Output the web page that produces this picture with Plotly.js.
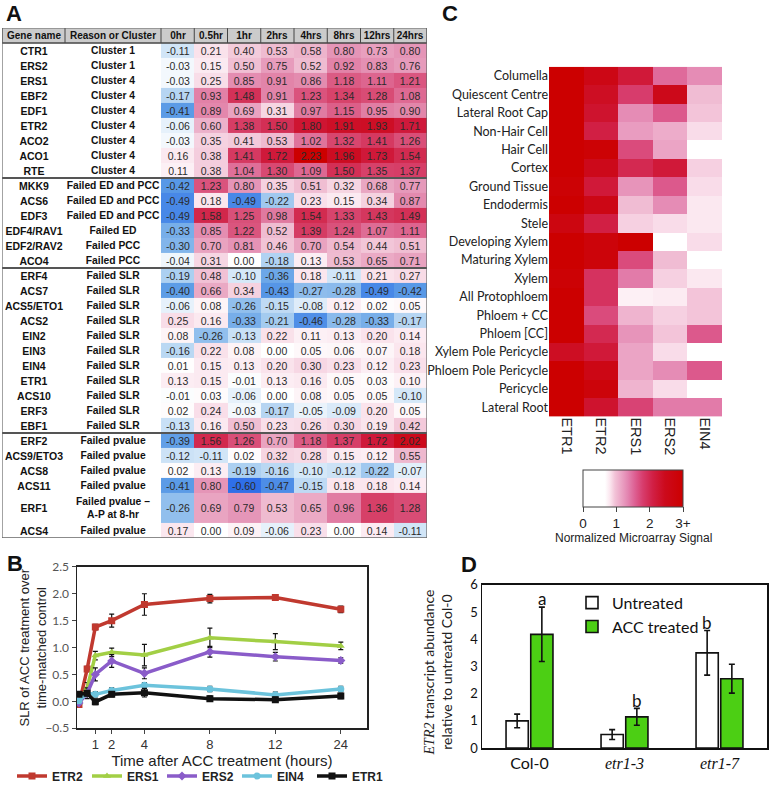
<!DOCTYPE html>
<html><head><meta charset="utf-8">
<script src="https://cdn.plot.ly/plotly-3.0.1.min.js"></script>
<style>body{margin:0;background:#fff}#chart{width:771px;height:791px}</style>
</head><body><div id="chart"></div>
<script>
// ---------- Panel A data ----------
const genes = ['CTR1','ERS2','ERS1','EBF2','EDF1','ETR2','ACO2','ACO1','RTE',
  'MKK9','ACS6','EDF3','EDF4/RAV1','EDF2/RAV2','ACO4',
  'ERF4','ACS7','ACS5/ETO1','ACS2','EIN2','EIN3','EIN4','ETR1','ACS10','ERF3','EBF1',
  'ERF2','ACS9/ETO3','ACS8','ACS11','ERF1','ACS4'];
const reasons = ['Cluster 1','Cluster 1','Cluster 4','Cluster 4','Cluster 4','Cluster 4','Cluster 4','Cluster 4','Cluster 4',
  'Failed ED and PCC','Failed ED and PCC','Failed ED and PCC','Failed ED','Failed PCC','Failed PCC',
  'Failed SLR','Failed SLR','Failed SLR','Failed SLR','Failed SLR','Failed SLR','Failed SLR','Failed SLR','Failed SLR','Failed SLR','Failed SLR',
  'Failed pvalue','Failed pvalue','Failed pvalue','Failed pvalue','Failed pvalue –<br>A-P at 8-hr','Failed pvalue'];
const timeLabels = ['0hr','0.5hr','1hr','2hrs','4hrs','8hrs','12hrs','24hrs'];
const headerLabels = ['Gene name','Reason or Cluster'].concat(timeLabels);
const slr = [
  [-0.11,0.21,0.40,0.53,0.58,0.80,0.73,0.80],
  [-0.03,0.15,0.50,0.75,0.52,0.92,0.83,0.76],
  [-0.03,0.25,0.85,0.91,0.86,1.18,1.11,1.21],
  [-0.17,0.93,1.48,0.91,1.23,1.34,1.28,1.08],
  [-0.41,0.89,0.69,0.31,0.97,1.15,0.95,0.90],
  [-0.06,0.60,1.38,1.50,1.80,1.91,1.93,1.71],
  [-0.03,0.35,0.41,0.53,1.02,1.32,1.41,1.26],
  [0.16,0.38,1.41,1.72,2.23,1.96,1.73,1.54],
  [0.11,0.38,1.04,1.30,1.09,1.50,1.35,1.37],
  [-0.42,1.23,0.80,0.35,0.51,0.32,0.68,0.77],
  [-0.49,0.18,-0.49,-0.22,0.23,0.15,0.34,0.87],
  [-0.49,1.58,1.25,0.98,1.54,1.33,1.43,1.49],
  [-0.33,0.85,1.22,0.52,1.39,1.24,1.07,1.11],
  [-0.30,0.70,0.81,0.46,0.70,0.54,0.44,0.51],
  [-0.04,0.31,0.00,-0.18,0.13,0.53,0.65,0.71],
  [-0.19,0.48,-0.10,-0.36,0.18,-0.11,0.21,0.27],
  [-0.40,0.66,0.34,-0.43,-0.27,-0.28,-0.49,-0.42],
  [-0.06,0.08,-0.26,-0.15,-0.08,0.12,0.02,0.05],
  [0.25,0.16,-0.33,-0.21,-0.46,-0.28,-0.33,-0.17],
  [0.08,-0.26,-0.13,0.22,0.11,0.13,0.20,0.14],
  [-0.16,0.22,0.08,0.00,0.05,0.06,0.07,0.18],
  [0.01,0.15,0.13,0.20,0.30,0.23,0.12,0.23],
  [0.13,0.15,-0.01,0.13,0.16,0.05,0.03,0.10],
  [-0.01,0.03,-0.06,0.00,0.08,0.05,0.05,-0.10],
  [0.02,0.24,-0.03,-0.17,-0.05,-0.09,0.20,0.05],
  [-0.13,0.16,0.50,0.23,0.26,0.30,0.19,0.42],
  [-0.39,1.56,1.26,0.70,1.18,1.37,1.72,2.02],
  [-0.12,-0.11,0.02,0.32,0.28,0.15,0.12,0.55],
  [0.02,0.13,-0.19,-0.16,-0.10,-0.12,-0.22,-0.07],
  [-0.41,0.80,-0.60,-0.47,-0.15,0.18,0.18,0.14],
  [-0.26,0.69,0.79,0.53,0.65,0.96,1.36,1.28],
  [0.17,0.00,0.09,-0.06,0.23,0.00,0.14,-0.11]
];

// ---------- Panel B data ----------
const bHours = [0,0.5,1,2,4,8,12,24];
const bTickHours = [1,2,4,8,12,24];
const bNames = ['ETR2','ERS1','ERS2','EIN4','ETR1'];
const bETR2 = [-0.06,0.60,1.38,1.50,1.80,1.91,1.93,1.71];
const bERS1 = [-0.03,0.25,0.85,0.91,0.86,1.18,1.11,1.03];
const bERS2 = [-0.03,0.15,0.50,0.75,0.52,0.92,0.83,0.76];
const bEIN4 = [0.01,0.15,0.13,0.20,0.30,0.23,0.12,0.23];
const bETR1 = [0.13,0.15,-0.01,0.13,0.16,0.05,0.03,0.10];
const bErrETR2 = [0.02,0.05,0.05,0.12,0.2,0.08,0.05,0.06];
const bErrERS1 = [0.02,0.1,0.08,0.08,0.2,0.18,0.15,0.07];
const bErrERS2 = [0.02,0.1,0.12,0.12,0.1,0.1,0.08,0.05];
const bErrEIN4 = [0.02,0.05,0.05,0.05,0.05,0.05,0.05,0.05];
const bErrETR1 = [0.02,0.05,0.05,0.05,0.08,0.05,0.05,0.05];

// ---------- Panel C data ----------
const tissues = ['Columella','Quiescent Centre','Lateral Root Cap','Non-Hair Cell','Hair Cell','Cortex',
  'Ground Tissue','Endodermis','Stele','Developing Xylem','Maturing Xylem','Xylem','All Protophloem',
  'Phloem + CC','Phloem [CC]','Xylem Pole Pericycle','Phloem Pole Pericycle','Pericycle','Lateral Root'];
const receptors = ['ETR1','ETR2','ERS1','ERS2','EIN4'];
const signal = [
  [3.0,2.6,2.2,1.5,1.3],
  [3.0,2.4,1.8,2.5,1.0],
  [3.0,2.3,1.3,1.6,0.95],
  [3.0,2.1,1.2,1.1,0.85],
  [3.0,2.9,1.7,1.15,0.0],
  [3.0,2.5,2.0,2.2,0.9],
  [2.9,2.2,1.25,1.6,0.85],
  [3.0,2.6,1.0,1.3,0.8],
  [2.7,2.1,0.9,0.85,0.8],
  [3.0,2.8,3.0,0.0,0.85],
  [3.0,2.8,1.7,1.0,0.0],
  [2.9,1.9,1.4,0.9,0.8],
  [3.0,1.9,0.75,0.78,0.95],
  [3.0,1.7,1.05,0.9,0.95],
  [3.0,2.0,1.25,0.95,1.6],
  [2.4,2.2,1.15,0.85,0.0],
  [3.0,2.6,1.15,1.3,1.6],
  [3.0,2.8,1.05,0.85,0.0],
  [3.0,2.3,1.75,1.4,1.4]
];
const cbTickVals = [0,1,2,3];
const cbTickText = ['0','1','2','3+'];

// ---------- Panel D data ----------
const genotypes = ['Col-0','etr1-3','etr1-7'];
const genotypeItalic = [false,true,true];
const untreated = [1.0,0.5,3.5];
const untreatedErr = [0.25,0.18,0.82];
const accTreated = [4.18,1.15,2.55];
const accErr = [1.0,0.31,0.53];
const letterUntreated = ['','','b'];
const letterAcc = ['a','b',''];

// ---------- helpers ----------
const W = 771, H = 791;
const px = v => v / W;
const py = v => 1 - v / H;

const traces = [];
const shapes = [];
const annotations = [];

// Panel A table (axes x / y), units: x in pixels of table, y in row units
const colW = [63, 96].concat(timeLabels.map(() => 33.25));
const xEdges = [0];
colW.forEach(w => xEdges.push(xEdges[xEdges.length - 1] + w));
const rowH = reasons.map(r => r.includes('<br>') ? 2 : 1);
const yEdges = [0];
rowH.forEach(h => yEdges.push(yEdges[yEdges.length - 1] + h));
const tableW = xEdges[xEdges.length - 1];
const tableH = yEdges[yEdges.length - 1];

traces.push({
  type: 'heatmap', xaxis: 'x', yaxis: 'y',
  x: xEdges, y: [-1, 0], z: [headerLabels.map(() => 0)],
  text: [headerLabels], texttemplate: '%{text}',
  textfont: {family: 'Arial', size: 10, color: '#111', weight: 'bold'},
  colorscale: [[0, '#cbcbcb'], [1, '#cbcbcb']], showscale: false, hoverinfo: 'skip'
});
traces.push({
  type: 'heatmap', xaxis: 'x', yaxis: 'y',
  x: xEdges.slice(0, 2), y: yEdges, z: genes.map(() => [0]),
  text: genes.map(g => [g]), texttemplate: '%{text}',
  textfont: {family: 'Arial', size: 10.5, color: '#111', weight: 'bold'},
  colorscale: [[0, '#ffffff'], [1, '#ffffff']], showscale: false, hoverinfo: 'skip'
});
traces.push({
  type: 'heatmap', xaxis: 'x', yaxis: 'y',
  x: xEdges.slice(1, 3), y: yEdges, z: reasons.map(() => [0]),
  text: reasons.map(r => [r]), texttemplate: '%{text}',
  textfont: {family: 'Arial', size: 10.3, color: '#111', weight: 'bold'},
  colorscale: [[0, '#ffffff'], [1, '#ffffff']], showscale: false, hoverinfo: 'skip'
});
traces.push({
  type: 'heatmap', xaxis: 'x', yaxis: 'y',
  x: xEdges.slice(2), y: yEdges, z: slr,
  texttemplate: '%{z:.2f}',
  textfont: {family: 'Arial', size: 10.5, color: '#2a2a2a'},
  zmin: -0.6, zmax: 2.2,
  colorscale: [[0, '#2f6fe8'], [0.0714, '#5d9de6'], [0.143, '#a8cdf0'], [0.179, '#d6e8f8'], [0.214, '#ffffff'],
    [0.286, '#fae3ec'], [0.393, '#f0bfd3'], [0.5, '#e595b7'], [0.607, '#dd6791'], [0.714, '#d53a62'],
    [0.821, '#cf1a3c'], [0.929, '#cc0a1e'], [1, '#cc0000']],
  showscale: false, hoverinfo: 'skip'
});
// header cell borders
xEdges.forEach(x => shapes.push({type: 'line', xref: 'x', yref: 'y', x0: x, x1: x, y0: -1, y1: 0, line: {color: '#444', width: 1}}));
shapes.push({type: 'line', xref: 'x', yref: 'y', x0: 0, x1: tableW, y0: 0, y1: 0, line: {color: '#444', width: 1.5}});
// group separators
const groupOf = r => r.startsWith('Cluster') ? 0 : (r.includes('ED') || r.includes('PCC')) ? 1 : r.includes('SLR') ? 2 : 3;
for (let i = 1; i < reasons.length; i++) {
  if (groupOf(reasons[i]) !== groupOf(reasons[i - 1])) {
    shapes.push({type: 'line', xref: 'x', yref: 'y', x0: 0, x1: tableW, y0: yEdges[i], y1: yEdges[i], line: {color: '#555', width: 2}});
  }
}
shapes.push({type: 'rect', xref: 'x', yref: 'y', x0: 0, x1: tableW, y0: -1, y1: tableH, line: {color: '#666', width: 1.2}});

// Panel B (x4 / y4)
const hourPos = h => h <= 12 ? h : 12 + (h - 12) / 3;
const bColors = ['#c0392f', '#a2cf45', '#8a5cc9', '#6cc3dc', '#111111'];
const bSymbols = ['square', 'triangle-up', 'diamond', 'circle', 'square'];
const bVals = [bETR2, bERS1, bERS2, bEIN4, bETR1];
const bErrs = [bErrETR2, bErrERS1, bErrERS2, bErrEIN4, bErrETR1];
bNames.forEach((n, i) => {
  traces.push({
    type: 'scatter', mode: 'lines+markers', name: n, xaxis: 'x4', yaxis: 'y4', legend: 'legend',
    x: bHours.map(hourPos), y: bVals[i],
    line: {color: bColors[i], width: 3.5},
    marker: {color: bColors[i], size: 7, symbol: bSymbols[i]},
    error_y: {type: 'data', array: bErrs[i], color: '#111', thickness: 1.2, width: 2.5},
    hoverinfo: 'skip'
  });
});

// Panel C (x2 / y2)
traces.push({
  type: 'heatmap', xaxis: 'x2', yaxis: 'y2',
  x: receptors, y: tissues, z: signal, zmin: 0, zmax: 3,
  colorscale: [[0, '#ffffff'], [0.22, '#ffffff'], [0.27, '#fbe6ef'], [0.32, '#f2c2d7'], [0.38, '#eba6c6'],
    [0.45, '#e384b0'], [0.52, '#dd5f92'], [0.6, '#d73c6c'], [0.7, '#d11f44'], [0.82, '#cc0a1c'], [1, '#cc0000']],
  hoverinfo: 'skip',
  colorbar: {
    orientation: 'h', x: px(633), xanchor: 'center', y: py(472), yanchor: 'top',
    len: 100, lenmode: 'pixels', thickness: 37, thicknessmode: 'pixels',
    outlinewidth: 1, outlinecolor: '#444', xpad: 0, ypad: 0,
    tickvals: cbTickVals, ticktext: cbTickText, ticks: 'outside', ticklen: 5, tickcolor: '#444',
    tickfont: {family: 'Arial', size: 13.5, color: '#222'}
  }
});

// Panel D (x3 / y3)
const genoTicks = genotypes.map((g, i) => genotypeItalic[i] ? '<span style="font-family:Liberation Serif"><i>' + g + '</i></span>' : g);
traces.push({
  type: 'bar', name: 'Untreated', xaxis: 'x3', yaxis: 'y3', legend: 'legend2',
  x: genotypes, y: untreated,
  marker: {color: '#ffffff', line: {color: '#111', width: 1.6}},
  error_y: {type: 'data', array: untreatedErr, color: '#111', thickness: 1.6, width: 3},
  hoverinfo: 'skip'
});
traces.push({
  type: 'bar', name: 'ACC treated', xaxis: 'x3', yaxis: 'y3', legend: 'legend2',
  x: genotypes, y: accTreated,
  marker: {color: '#4ccf14', line: {color: '#111', width: 1.6}},
  error_y: {type: 'data', array: accErr, color: '#111', thickness: 1.6, width: 3},
  hoverinfo: 'skip'
});
genotypes.forEach((g, i) => {
  if (letterUntreated[i]) annotations.push({xref: 'x3', yref: 'y3', x: g, y: untreated[i] + untreatedErr[i] + 0.3, xshift: -12.5, text: letterUntreated[i], showarrow: false, font: {family: 'Lato', size: 17, color: '#111'}});
  if (letterAcc[i]) annotations.push({xref: 'x3', yref: 'y3', x: g, y: accTreated[i] + accErr[i] + 0.3, xshift: 12.5, text: letterAcc[i], showarrow: false, font: {family: 'Lato', size: 17, color: '#111'}});
});

// panel letters and titles
[['A', 14, 14], ['B', 15, 566], ['C', 450, 14], ['D', 469, 567]].forEach(([t, x, y]) => annotations.push({
  xref: 'paper', yref: 'paper', x: px(x), y: py(y), text: '<b>' + t + '</b>', showarrow: false,
  font: {family: 'Arial', size: 22, color: '#111'}, xanchor: 'center', yanchor: 'middle'
}));
annotations.push({xref: 'paper', yref: 'paper', x: px(633), y: py(540), text: 'Normalized Microarray Signal', showarrow: false,
  font: {family: 'Arial', size: 12, color: '#222'}, xanchor: 'center', yanchor: 'middle'});
annotations.push({xref: 'paper', yref: 'paper', x: px(437), y: py(675), textangle: -90,
  text: '<span style="font-family:Liberation Serif"><i>ETR2</i></span> transcript abundance<br>relative to untreatd Col-0',
  showarrow: false, font: {family: 'Lato', size: 14, color: '#222'}, xanchor: 'center', yanchor: 'middle'});
annotations.push({xref: 'paper', yref: 'paper', x: px(33), y: py(650), textangle: -90,
  text: 'SLR of ACC treatment over<br>time-matched control',
  showarrow: false, font: {family: 'Arial', size: 13, color: '#222'}, xanchor: 'center', yanchor: 'middle'});

const layout = {
  width: W, height: H, margin: {l: 0, r: 0, t: 0, b: 0},
  paper_bgcolor: '#fff', plot_bgcolor: 'rgba(0,0,0,0)',
  font: {family: 'Arial', color: '#222'},
  xaxis: {domain: [px(2), px(427)], range: [0, tableW], visible: false, fixedrange: true},
  yaxis: {domain: [py(540), py(28)], range: [tableH, -1], visible: false, fixedrange: true},
  xaxis2: {domain: [px(549), px(722)], anchor: 'y2', tickangle: 90, ticks: '', showline: false,
    tickfont: {family: 'Arial', size: 14.5, color: '#222'}},
  yaxis2: {domain: [py(418), py(67)], anchor: 'x2', autorange: 'reversed', ticks: '', showline: false,
    tickfont: {family: 'Lato', size: 12.5, color: '#222'}},
  xaxis3: {domain: [px(482), px(767)], anchor: 'y3', type: 'category', categoryarray: genotypes,
    tickvals: genotypes, ticktext: genoTicks, showline: true, mirror: true, linecolor: '#111', linewidth: 1.5,
    ticks: '', tickfont: {family: 'Lato', size: 16, color: '#111'}},
  yaxis3: {domain: [py(751), py(587)], anchor: 'x3', range: [0, 6], dtick: 1, showline: true, mirror: true,
    linecolor: '#111', linewidth: 1.5, showgrid: false, zeroline: false, ticks: '',
    tickfont: {family: 'Lato', size: 13, color: '#111'}},
  xaxis4: {domain: [px(77), px(367)], anchor: 'y4', range: [-0.12, 17.6], tickvals: bTickHours.map(hourPos),
    ticktext: bTickHours.map(String), showline: true, mirror: true, linecolor: '#222', linewidth: 1.5,
    showgrid: false, zeroline: false, ticks: 'outside', ticklen: 4,
    tickfont: {family: 'Arial', size: 13, color: '#333'},
    title: {text: 'Time after ACC treatment (hours)', font: {family: 'Arial', size: 15, color: '#222'}, standoff: 2}},
  yaxis4: {domain: [py(731), py(569)], anchor: 'x4', range: [-0.5, 2.5], dtick: 0.5, tickformat: '.1f',
    showline: true, mirror: true, linecolor: '#222', linewidth: 1.5, showgrid: false, zeroline: false,
    ticks: 'outside', ticklen: 4, tickfont: {family: 'Lato', size: 12, color: '#555'}},
  bargap: 0.48, bargroupgap: 0.1, barmode: 'group',
  legend: {orientation: 'h', x: px(12), xanchor: 'left', y: py(779), yanchor: 'middle',
    font: {family: 'Arial', size: 12, color: '#222', weight: 'bold'}, bgcolor: 'rgba(0,0,0,0)',
    itemwidth: 30, entrywidth: 30, entrywidthmode: 'pixels'},
  legend2: {x: px(572), xanchor: 'left', y: py(588), yanchor: 'top', tracegroupgap: 0,
    font: {family: 'Lato', size: 16, color: '#111'}, bgcolor: 'rgba(0,0,0,0)', itemwidth: 30},
  shapes: shapes, annotations: annotations
};

Plotly.newPlot('chart', traces, layout, {staticPlot: true});
</script></body></html>
